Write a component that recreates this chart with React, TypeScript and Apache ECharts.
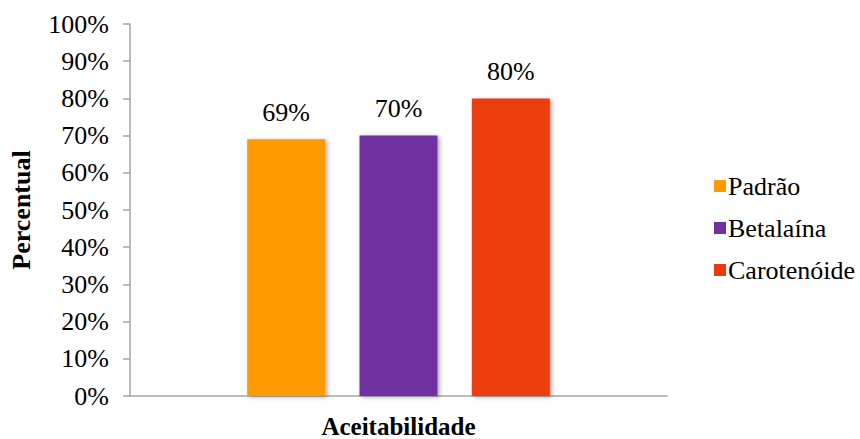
import React, { useEffect, useRef } from "react";
import * as echarts from "echarts";

const categories = ["Aceitabilidade"];
const seriesNames = ["Padrão", "Betalaína", "Carotenóide"];
const seriesValues = [[69], [70], [80]];
const seriesColors = ["#FF9900", "#7030A0", "#EC3C0E"];

const FONT = "Liberation Serif, serif";

export default function App() {
  const ref = useRef<HTMLDivElement>(null);
  useEffect(() => {
    if (!ref.current) return;
    const chart = echarts.init(ref.current, undefined, { renderer: "svg" });
    chart.setOption({
      animation: false,
      backgroundColor: "#ffffff",
      textStyle: { fontFamily: FONT },
      grid: { left: 129, right: 193, top: 24, bottom: 42 },
      legend: {
        orient: "vertical",
        left: 709,
        top: 168,
        itemWidth: 12,
        itemHeight: 12,
        itemGap: 16,
        icon: "rect",
        data: seriesNames,
        textStyle: { fontFamily: FONT, fontSize: 26, color: "#000", padding: [0, 0, 0, -3] },
      },
      xAxis: {
        type: "category",
        data: categories,
        axisLine: { lineStyle: { color: "#A6A6A6", width: 1.5 } },
        axisTick: { show: false },
        axisLabel: {
          fontFamily: FONT,
          fontSize: 25,
          fontWeight: "bold",
          color: "#000",
          margin: 18,
        },
      },
      yAxis: {
        type: "value",
        min: 0,
        max: 100,
        interval: 10,
        name: "Percentual",
        nameLocation: "middle",
        nameGap: 96,
        nameTextStyle: { fontFamily: FONT, fontSize: 26, fontWeight: "bold", color: "#000" },
        splitLine: { show: false },
        axisLine: { show: true, lineStyle: { color: "#A6A6A6", width: 1.5 } },
        axisTick: { show: true, length: 7, lineStyle: { color: "#A6A6A6", width: 1.5 } },
        axisLabel: {
          fontFamily: FONT,
          fontSize: 26,
          color: "#000",
          margin: 21,
          formatter: (v: number) => v + "%",
        },
      },
      series: seriesNames.map((name, i) => ({
        name,
        type: "bar",
        data: seriesValues[i],
        barWidth: 78,
        barGap: "44%",
        itemStyle: {
          color: seriesColors[i],
          shadowColor: "rgba(0,0,0,0.35)",
          shadowBlur: 4,
          shadowOffsetX: 2,
          shadowOffsetY: 1,
        },
        label: {
          show: true,
          position: "top",
          distance: 14,
          fontFamily: FONT,
          fontSize: 26,
          color: "#000",
          formatter: (p: any) => p.value + "%",
        },
      })),
    });
    return () => chart.dispose();
  }, []);
  return (
    <div
      ref={ref}
      style={{ position: "fixed", left: 0, top: 0, width: 860, height: 439, background: "#fff" }}
    />
  );
}
